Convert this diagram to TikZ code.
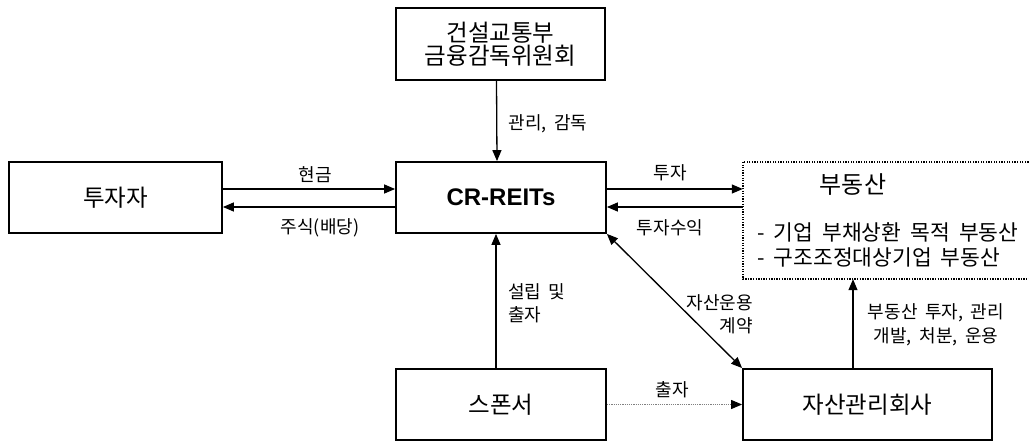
\documentclass[tikz,border=0pt]{standalone}
\usepackage{fontspec}
\setmainfont{Noto Sans CJK KR}
\newfontfamily\latinbold{Liberation Sans}
\usetikzlibrary{arrows.meta,calc}

% wider inter-word gaps for the Korean labels
\protected\def\widespaces{\spaceskip=0.42em\relax}

\tikzset{
  box/.style={draw, line width=1.8pt, rectangle, inner sep=0pt, font=\fontsize{23.5}{27}\selectfont},
  arr/.style={line width=1.3pt, -{Triangle[length=11pt,width=9pt]}},
  biarr/.style={line width=1.3pt, {Triangle[length=11pt,width=9pt]}-{Triangle[length=11pt,width=9pt]}},
  dotarr/.style={line width=1pt, gray, dash pattern=on 1.2pt off 1pt, -{Triangle[length=11pt,width=9pt,color=black,fill=black]}},
  lbl/.style={inner sep=0pt, font=\fontsize{18}{23.5}\selectfont\widespaces},
  dotbox/.style={line width=1.6pt, dash pattern=on 1.3pt off 1.3pt},
}

\begin{document}
\begin{tikzpicture}[x=1pt,y=-1pt]
\useasboundingbox (0,0) rectangle (1029,443);

% boxes
\node[box, minimum width=209pt, minimum height=72pt, align=center] (gov) at (500.5,44)
  {건설교통부\\[-4pt]금융감독위원회};
\node[box, minimum width=210pt, minimum height=71pt] (reit) at (501,197.5)
  {\latinbold\bfseries\fontsize{24}{28}\selectfont CR-REITs};
\node[box, minimum width=213pt, minimum height=71pt] (inv) at (115.5,197.5) {투자자};
\node[box, minimum width=210pt, minimum height=71pt] (spon) at (501,404.5) {스폰서};
\node[box, minimum width=249pt, minimum height=71pt] (asset) at (867.5,404.5) {자산관리회사};

% real estate area (dotted frame runs past the right edge)
\node[inner sep=0pt, minimum width=288pt, minimum height=117pt] (realty) at (887,220.5) {};
\draw[dotbox] (realty.north east) -- (realty.north west) -- (realty.south west) -- (realty.south east);
\node[inner sep=0pt, font=\fontsize{24}{28}\selectfont] (realtytitle) at (853,185) {부동산};
\node[inner sep=0pt, anchor=west, align=left, font=\fontsize{21.5}{25}\selectfont\widespaces] (realtylist) at (757,244.5)
  {- 기업 부채상환 목적 부동산\\- 구조조정대상기업 부동산};

% connectors
\draw[arr] ([xshift=-4pt]gov.south) -- ([xshift=-4pt]reit.north);
\draw[arr] ([yshift=8.5pt]inv.east) -- ([yshift=8.5pt]reit.west);
\draw[arr] ([yshift=-9.5pt]reit.west) -- ([yshift=-9.5pt]inv.east);
\draw[arr] ([yshift=8.5pt]reit.east) -- ([yshift=8.5pt]reit.east -| realty.west);
\draw[arr] ([yshift=-9.5pt]reit.east -| realty.west) -- ([yshift=-9.5pt]reit.east);
\draw[biarr] (reit.south east) -- (asset.north west);
\draw[arr] ([xshift=-5pt]spon.north) -- ([xshift=-5pt]reit.south);
\draw[dotarr] (spon.east) -- (asset.west);
\draw[arr] ([xshift=-14.5pt]asset.north) -- ([xshift=-14.5pt]asset.north |- realty.south);

% labels
\node[lbl] (l1) at (548,124) {관리, 감독};
\node[lbl] (l2) at (315,175) {현금};
\node[lbl] (l3) at (320,228) {주식(배당)};
\node[lbl] (l4) at (670,173) {투자};
\node[lbl] (l5) at (670,228) {투자수익};
\node[lbl, anchor=west, align=left] (l6) at (508,303.5) {설립 및\\출자};
\node[lbl, anchor=east, align=right] (l7) at (753,314.5) {자산운용\\계약};
\node[lbl, align=center] (l8) at (936,325) {부동산 투자, 관리\\개발, 처분, 운용};
\node[lbl] (l9) at (672,390) {출자};
\end{tikzpicture}
\end{document}
